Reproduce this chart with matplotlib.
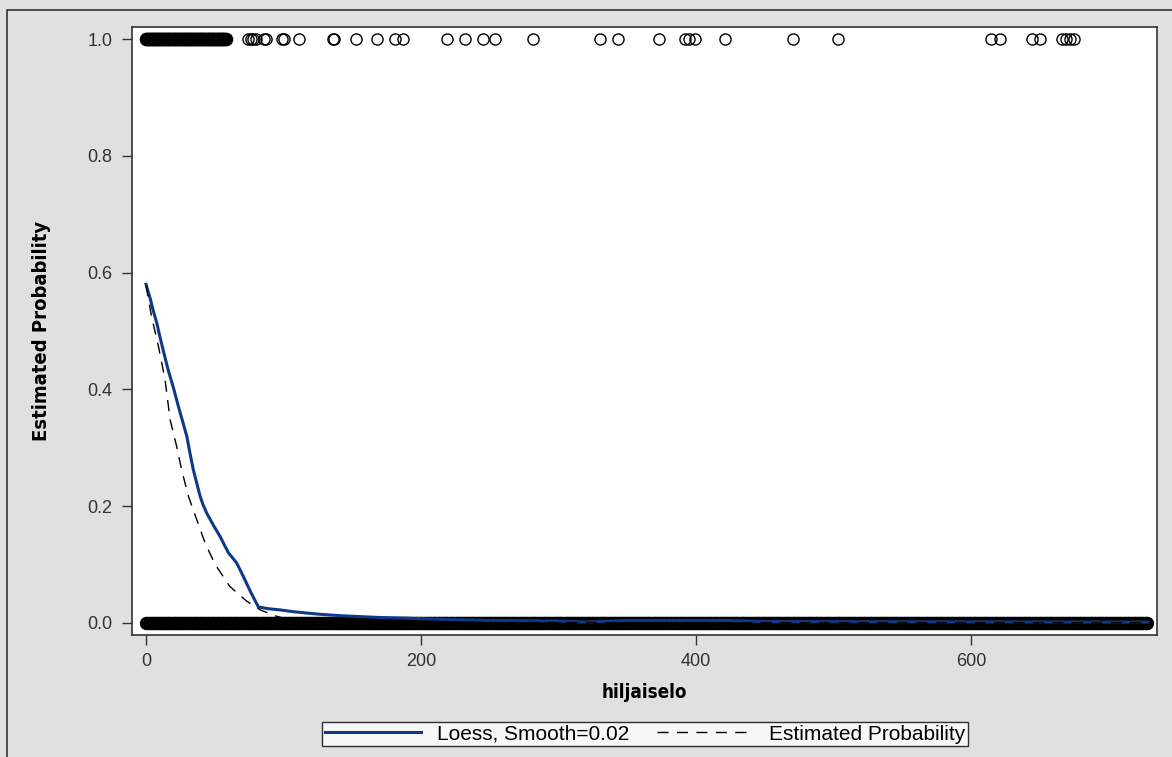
import numpy as np
import matplotlib
matplotlib.use("Agg")
import matplotlib.pyplot as plt
from matplotlib.patches import Rectangle

# observed days with event (y = 1)
ones_x = list(range(0, 59)) + [74, 76, 78, 80, 86, 87, 99, 100, 111, 136, 137, 153,
                               168, 181, 187, 219, 232, 245, 254, 281, 330, 343,
                               373, 392, 395, 399, 421, 470, 503, 614, 621, 644,
                               650, 666, 669, 672, 675]
# observed days without event (y = 0): every day 0..728 appears
zeros_x = np.arange(0, 729)

# loess fit, smooth=0.02
loess_x = [0, 3, 5, 8, 10, 13, 16, 20, 23.5, 26.5, 29.6, 32, 34.4, 37, 39.3, 41.5,
           44.1, 49, 53.8, 57, 59.9, 63, 66, 68.5, 70.8, 76, 81.7, 89, 97.5, 107,
           117, 124, 131, 142, 153, 170, 186, 215, 248, 300, 320, 350, 420, 450, 728]
loess_y = [0.58, 0.556, 0.537, 0.512, 0.491, 0.462, 0.434, 0.402, 0.371, 0.346, 0.32,
           0.29, 0.262, 0.238, 0.217, 0.202, 0.188, 0.167, 0.148, 0.133, 0.12, 0.111,
           0.102, 0.09, 0.079, 0.053, 0.027, 0.024, 0.022, 0.019, 0.0166, 0.015,
           0.0137, 0.012, 0.0108, 0.009, 0.008, 0.006, 0.004, 0.003, 0.001, 0.004,
           0.004, 0.002, 0.001]

# estimated probability (logistic model)
est_x = [0, 4, 9, 13.8, 17.5, 22.3, 25.9, 30.8, 36.8, 42.9, 50.2, 61, 73.2, 83, 95,
         105, 130, 200, 400, 728]
est_y = [0.578, 0.525, 0.474, 0.417, 0.348, 0.302, 0.262, 0.217, 0.177, 0.137, 0.1,
         0.062, 0.037, 0.022, 0.011, 0.005, 0.002, 0.0005, 0.0, 0.0]

plt.rcParams['font.family'] = ['Liberation Sans', 'DejaVu Sans']
label_font = dict(family='DejaVu Sans', fontstretch='condensed', fontweight='bold')

fig = plt.figure(figsize=(11.72, 7.57), dpi=100, facecolor='#e0e0e0')
fig.add_artist(Rectangle((7 / 1172, -0.1), 1.2, 1 - 10 / 757 + 0.1,
                         transform=fig.transFigure, fill=False,
                         edgecolor='#333333', linewidth=1.2))
ax = fig.add_axes([132 / 1172, 1 - 635 / 757, 1025 / 1172, 608 / 757])
ax.set_facecolor('white')

ax.plot(zeros_x, np.zeros(len(zeros_x)), 'o', mfc='none', mec='black', ms=8, mew=1.6)
dense = [v for v in ones_x if v <= 58]
sparse = [v for v in ones_x if v > 58]
ax.plot(dense, np.ones(len(dense)), 'o', mfc='none', mec='black', ms=8, mew=1.8)
ax.plot(sparse, np.ones(len(sparse)), 'o', mfc='none', mec='black', ms=8, mew=1.0)
ax.plot(loess_x, loess_y, '-', color='#0d3a88', lw=2.2, label='Loess, Smooth=0.02')
ax.plot(est_x, est_y, '--', color='black', lw=1.0, dashes=(8, 6),
        label='Estimated Probability')

ax.set_xlim(-10.2, 735)
ax.set_ylim(-0.021, 1.021)
ax.set_xticks([0, 200, 400, 600])
ax.set_yticks([0.0, 0.2, 0.4, 0.6, 0.8, 1.0])
ax.set_yticklabels(['%.1f' % v for v in ax.get_yticks()])
ax.tick_params(direction='out', length=7, width=1, colors='#333333',
               labelsize=13, labelcolor='#333333')
ax.tick_params(axis='x', pad=6)
ax.tick_params(axis='y', pad=7)
for sp in ax.spines.values():
    sp.set_color('#333333')
    sp.set_linewidth(1.2)

ax.set_xlabel('hiljaiselo', labelpad=9, fontsize=13.5, **label_font)
ax.set_ylabel('Estimated Probability', labelpad=26, fontsize=14.5, **label_font)

leg = fig.legend(loc='center', bbox_to_anchor=(645 / 1172, 1 - 734 / 757), ncol=2,
                 frameon=True, fancybox=False, edgecolor='black', fontsize=15,
                 handlelength=4.6, columnspacing=1.3, borderpad=0.12,
                 handletextpad=0.8, borderaxespad=0)
leg.get_frame().set_linewidth(1.0)

fig.savefig('out.png', dpi=100, facecolor=fig.get_facecolor())
